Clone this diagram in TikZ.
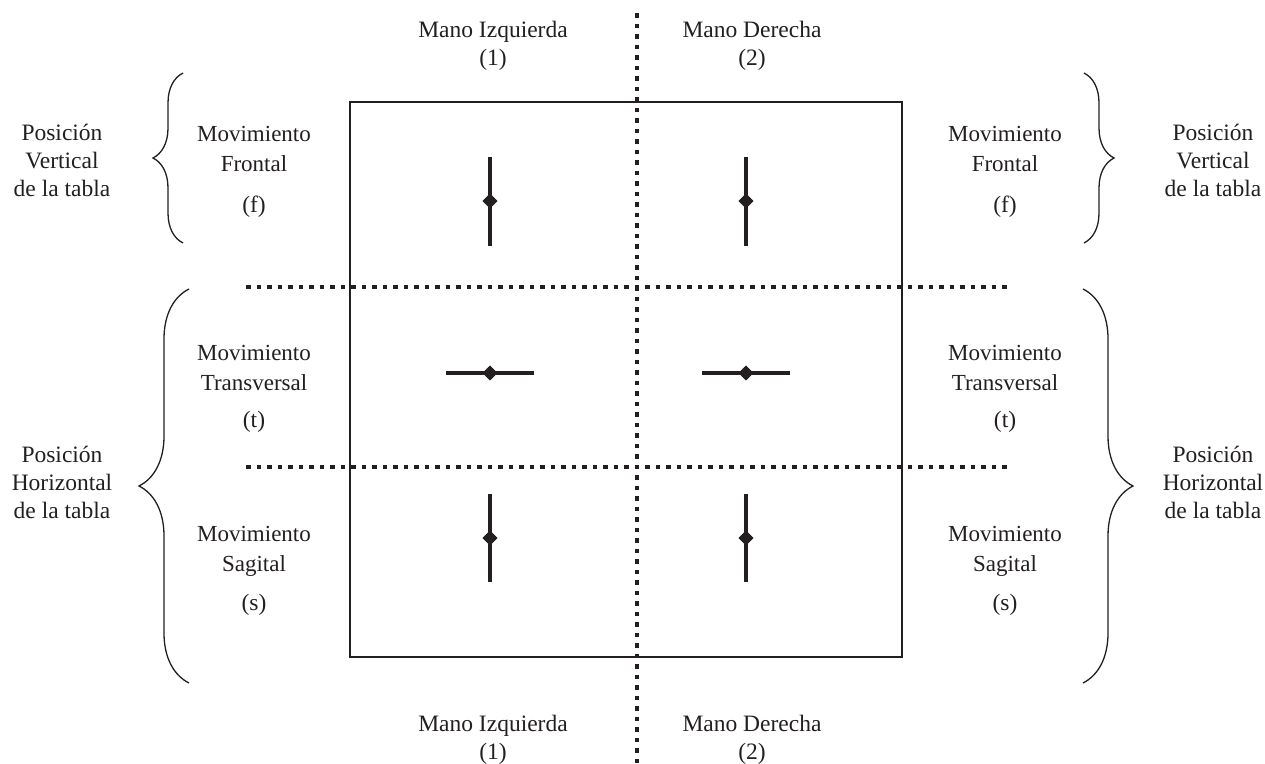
\documentclass[tikz,border=0pt]{standalone}
\usepackage{fontspec}
\setmainfont{Liberation Serif}
\usetikzlibrary{positioning,shapes.geometric,decorations.pathreplacing}
\definecolor{ink}{RGB}{35,31,32}

\begin{document}
\begin{tikzpicture}[x=1pt, y=-1pt,
          lbl/.style={align=center, inner sep=0pt, text=ink,
              font=\fontsize{23.5}{28}\selectfont},
          movlbl/.style={lbl, font=\fontsize{23}{30}\selectfont},
          pivot/.style={diamond, fill=ink, inner sep=0pt, minimum size=15pt},
          stick/.style={line width=4.5pt, ink},
          sep/.style={line width=4.5pt, ink, dash pattern=on 4.5pt off 6pt},
          curly/.style={decorate, decoration={brace, amplitude=#1},
              line width=1.3pt, ink}
        ]
        \useasboundingbox (0,0) rectangle (1265,763);

        % table
        \draw[line width=1.3pt, ink] (350,102) rectangle (902,657);

        % dotted separators
        \coordinate (vtop) at (637,13);
        \coordinate (vbot) at (637,765);
        \coordinate (h1l)  at (246,287);
        \coordinate (h1r)  at (1012,287);
        \coordinate (h2l)  at (246,467);
        \coordinate (h2r)  at (1012,467);
        \draw[sep] (vtop) -- (vbot);
        \draw[sep] (h1l) -- (h1r);
        \draw[sep] (h2l) -- (h2r);

        % hands
        \node[lbl] (izqtop) at (493,45.5) {Mano Izquierda\\(1)};
        \node[lbl] (dertop) at (752,45.5) {Mano Derecha\\(2)};
        \node[lbl] (izqbot) at (493,740)  {Mano Izquierda\\(1)};
        \node[lbl] (derbot) at (752,740)  {Mano Derecha\\(2)};

        % braces
        \draw[curly=30pt] (183,243) -- (183,73);
        \draw[curly=50pt] (189,683) -- (189,289);
        \draw[curly=30pt] (1084,73) -- (1084,243);
        \draw[curly=50pt] (1083,289) -- (1083,683);

        % table positions
        \node[lbl] (vertl) at (62,160)   {Posición\\Vertical\\de la tabla};
        \node[lbl] (horl)  at (62,482)   {Posición\\Horizontal\\de la tabla};
        \node[lbl] (vertr) at (1213,160) {Posición\\Vertical\\de la tabla};
        \node[lbl] (horr)  at (1213,482) {Posición\\Horizontal\\de la tabla};

        % movements, left
        \node[movlbl] (frontl) at (254,149)   {Movimiento\\Frontal};
        \node[lbl]    (fl)     at (254,207)   {(f)};
        \node[movlbl] (transl) at (254,367.5) {Movimiento\\Transversal};
        \node[lbl]    (tl)     at (254,422)   {(t)};
        \node[movlbl] (sagl)   at (254,551)   {Movimiento\\Sagital};
        \node[lbl]    (sl)     at (254,605)   {(s)};

        % movements, right
        \node[movlbl] (frontr) at (1005,149)   {Movimiento\\Frontal};
        \node[lbl]    (fr)     at (1005,207)   {(f)};
        \node[movlbl] (transr) at (1005,367.5) {Movimiento\\Transversal};
        \node[lbl]    (tr)     at (1005,422)   {(t)};
        \node[movlbl] (sagr)   at (1005,551)   {Movimiento\\Sagital};
        \node[lbl]    (sr)     at (1005,605)   {(s)};

        % markers
        \node[pivot] (p1) at (490,201) {};
        \node[pivot] (p2) at (746,201) {};
        \node[pivot] (p3) at (490,373) {};
        \node[pivot] (p4) at (746,373) {};
        \node[pivot] (p5) at (490,538) {};
        \node[pivot] (p6) at (746,538) {};
        \draw[stick] ([yshift=44.5pt]p1.center) -- ([yshift=-44.5pt]p1.center);
        \draw[stick] ([yshift=44.5pt]p2.center) -- ([yshift=-44.5pt]p2.center);
        \draw[stick] ([xshift=-44pt]p3.center) -- ([xshift=44pt]p3.center);
        \draw[stick] ([xshift=-44pt]p4.center) -- ([xshift=44pt]p4.center);
        \draw[stick] ([yshift=44pt]p5.center) -- ([yshift=-44pt]p5.center);
        \draw[stick] ([yshift=44pt]p6.center) -- ([yshift=-44pt]p6.center);
        \node[pivot] at (p1) {};
        \node[pivot] at (p2) {};
        \node[pivot] at (p3) {};
        \node[pivot] at (p4) {};
        \node[pivot] at (p5) {};
        \node[pivot] at (p6) {};
      \end{tikzpicture}
\end{document}
